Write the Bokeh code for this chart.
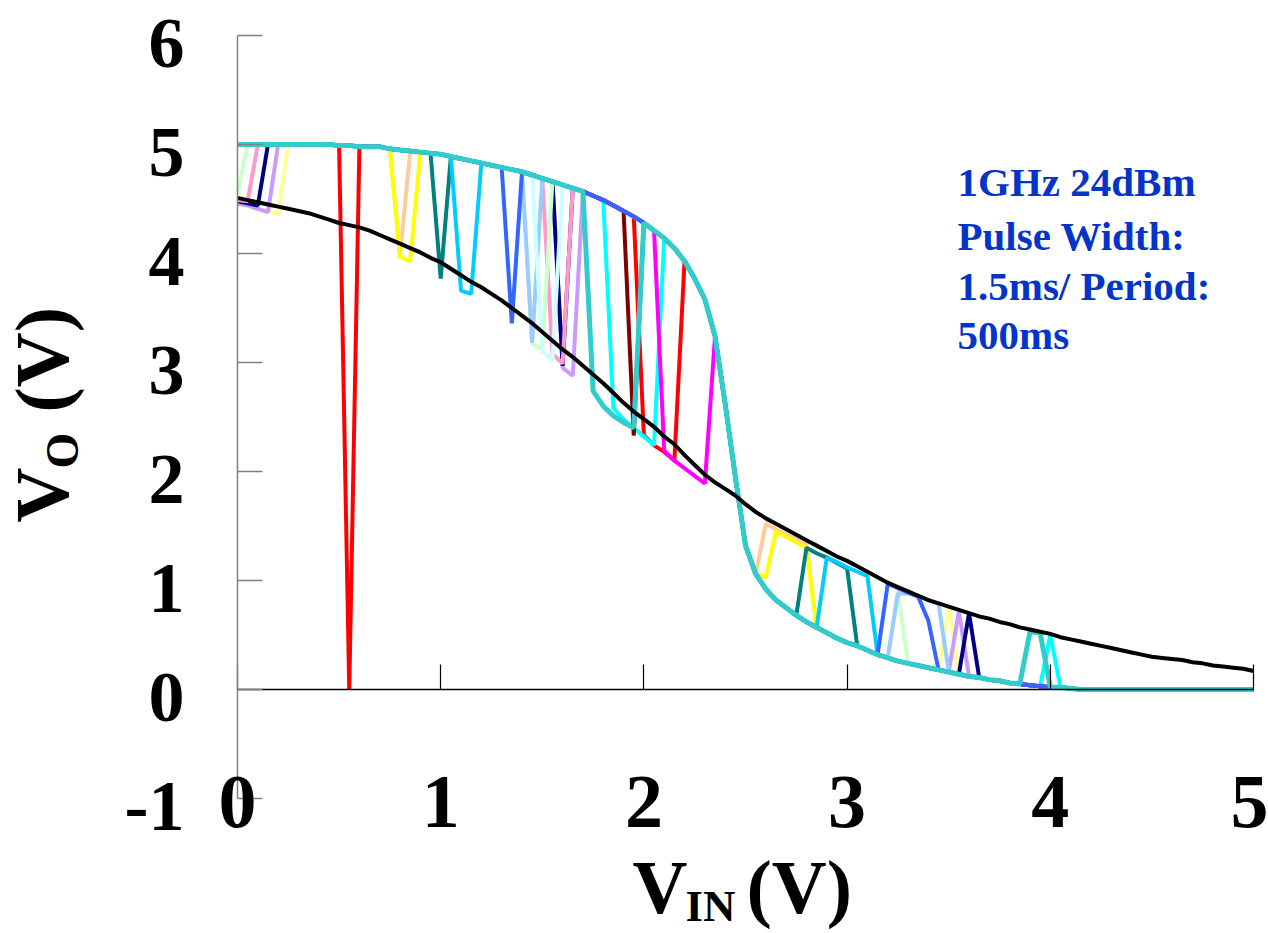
import math
from bokeh.plotting import figure
from bokeh.models import Range1d, LinearAxis, FixedTicker, Label, CustomJSTickFormatter
from bokeh.embed import file_html
from bokeh.resources import INLINE

# ---------------- data ----------------
vin = [round(i * 0.05, 2) for i in range(101)]  # input sweep, 0 .. 5 V in 0.05 V steps

# clean transfer curve (no pulse)
vout_clean = [
    5.00, 5.00, 5.00, 5.00, 5.00, 5.00, 5.00, 5.00, 5.00, 5.00,
    4.99, 4.99, 4.98, 4.98, 4.98, 4.96, 4.95, 4.94, 4.93, 4.92,
    4.91, 4.89, 4.87, 4.85, 4.83, 4.81, 4.79, 4.77, 4.75, 4.72,
    4.69, 4.66, 4.63, 4.60, 4.57, 4.53, 4.49, 4.44, 4.39, 4.34,
    4.28, 4.21, 4.14, 4.05, 3.93, 3.77, 3.58, 3.24, 2.62, 1.95,
    1.32, 1.06, 0.92, 0.82, 0.75, 0.68, 0.62, 0.57, 0.52, 0.47,
    0.43, 0.40, 0.36, 0.32, 0.29, 0.26, 0.24, 0.22, 0.20, 0.18,
    0.16, 0.14, 0.12, 0.11, 0.09, 0.08, 0.06, 0.05, 0.04, 0.03,
    0.02, 0.02, 0.01, 0.00, 0.00, 0.00, 0.00, 0.00, 0.00, 0.00,
    0.00, 0.00, 0.00, 0.00, 0.00, 0.00, 0.00, 0.00, 0.00, 0.00,
    0.00,
]

# transfer curve under continuous RF (black)
vout_cw = [
    4.51, 4.49, 4.47, 4.45, 4.43, 4.41, 4.39, 4.37, 4.34, 4.31,
    4.28, 4.26, 4.24, 4.21, 4.17, 4.13, 4.09, 4.05, 4.01, 3.96,
    3.92, 3.86, 3.80, 3.74, 3.69, 3.63, 3.57, 3.50, 3.43, 3.36,
    3.28, 3.20, 3.12, 3.05, 2.97, 2.89, 2.81, 2.72, 2.63, 2.55,
    2.48, 2.41, 2.32, 2.25, 2.15, 2.06, 1.97, 1.90, 1.84, 1.78,
    1.70, 1.63, 1.57, 1.52, 1.47, 1.42, 1.37, 1.32, 1.27, 1.22,
    1.18, 1.13, 1.08, 1.03, 0.98, 0.94, 0.90, 0.86, 0.82, 0.79,
    0.76, 0.73, 0.70, 0.67, 0.65, 0.62, 0.60, 0.57, 0.55, 0.53,
    0.51, 0.48, 0.46, 0.44, 0.42, 0.40, 0.38, 0.36, 0.34, 0.32,
    0.30, 0.29, 0.28, 0.27, 0.25, 0.24, 0.22, 0.21, 0.20, 0.19,
    0.17,
]

# pulsed sweeps: colour, and the samples that were hit by the pulse
pulse_colors = [
    "#FFFF99", "#CC99FF", "#000080", "#FF99CC", "#CCFFCC", "#FF0000",
    "#FFCC99", "#FFFF00", "#008080", "#00CCFF", "#99CCFF", "#CCFFFF",
    "#00FFFF", "#800000", "#FF00FF", "#3366FF", "#33CCCC",
]
pulse_vin = [
    [0.0, 0.05, 0.1, 0.15, 0.2, 3.5],
    [0.0, 0.05, 0.1, 0.15, 1.6, 1.65, 3.55],
    [0.0, 0.05, 0.1, 1.6, 3.6],
    [0.0, 0.05, 1.55, 1.6],
    [0.0, 1.45, 1.5, 3.25],
    [0.55, 2.0, 2.05, 2.1, 2.15],
    [0.8, 2.6, 2.65, 2.7, 2.75, 2.8],
    [0.8, 0.85, 2.6, 2.65, 2.7, 2.75, 2.8],
    [1.0, 2.8, 2.85, 2.9, 2.95, 3.0],
    [1.1, 1.15, 2.9, 2.95, 3.0, 3.05, 3.1],
    [1.45, 3.25, 3.3, 3.35, 3.4, 3.45],
    [1.5, 1.55],
    [1.85, 1.9, 1.95, 2.0, 2.05, 4.0],
    [1.95],
    [2.1, 2.15, 2.2, 2.25, 2.3],
    [1.35, 3.2, 3.25, 3.3, 3.35, 3.4],
    [1.75, 1.8, 1.85, 1.9, 1.95, 3.9, 3.95],
]
pulse_vout = [
    [4.45, 4.43, 4.41, 4.39, 4.36, 0.76],
    [4.46, 4.44, 4.41, 4.38, 2.95, 2.88, 0.72],
    [4.48, 4.46, 4.44, 2.97, 0.70],
    [4.49, 4.48, 3.08, 2.99],
    [4.55, 3.17, 3.12, 0.90],
    [0.00, 2.33, 2.24, 2.18, 2.10],
    [3.98, 1.52, 1.47, 1.42, 1.38, 1.34],
    [3.97, 3.93, 1.03, 1.45, 1.40, 1.35, 1.30],
    [3.77, 1.30, 1.25, 1.21, 1.16, 1.11],
    [3.66, 3.63, 1.21, 1.17, 1.12, 1.08, 1.04],
    [3.18, 0.88, 0.88, 0.86, 0.82, 0.79],
    [3.10, 3.02],
    [2.58, 2.48, 2.40, 2.32, 2.24, 0.50],
    [2.33],
    [2.19, 2.10, 2.03, 1.96, 1.89],
    [3.36, 0.97, 0.93, 0.89, 0.85, 0.63],
    [2.74, 2.60, 2.51, 2.45, 2.40, 0.53, 0.52],
]

x_ticks = [0, 1, 2, 3, 4, 5]
x_tick_labels = ["0", "1", "2", "3", "4", "5"]
y_ticks = [-1, 0, 1, 2, 3, 4, 5, 6]
y_tick_labels = ["-1", "0", "1", "2", "3", "4", "5", "6"]
note_lines = ["1GHz 24dBm", "Pulse Width:", "1.5ms/ Period:", "500ms"]

# ---------------- figure ----------------
FONT = "Liberation Serif"
W, H = 1268, 933
PX_X, PX_Y = 203.2, 109.0          # pixels per volt
X0, Y0 = 237, 689                  # canvas position of (0, 0)
p = figure(width=W, height=H,
           x_range=Range1d(-X0 / PX_X, (W - X0) / PX_X),
           y_range=Range1d(-(H - Y0) / PX_Y, Y0 / PX_Y),
           output_backend="svg", toolbar_location=None,
           x_axis_location=None, y_axis_location=None, min_border=0)
p.title.visible = False
p.outline_line_color = None
p.grid.grid_line_color = None
p.background_fill_color = "white"
p.border_fill_color = "white"

empty = CustomJSTickFormatter(code="return ''")

# x axis line at Vo = 0 with inward ticks
xline = LinearAxis(ticker=FixedTicker(ticks=x_ticks), fixed_location=0, bounds=(0, 5),
                   axis_line_color="black", axis_line_width=1.5,
                   major_tick_in=25, major_tick_out=0,
                   major_tick_line_color="black", major_tick_line_width=1.2,
                   minor_tick_line_color=None, formatter=empty,
                   major_label_standoff=0)
p.add_layout(xline, "below")
# y axis line at Vin = 0 with inward ticks
yline = LinearAxis(ticker=FixedTicker(ticks=y_ticks), fixed_location=0, bounds=(-1, 6),
                   axis_line_color="#808080", axis_line_width=1.5,
                   major_tick_in=25, major_tick_out=0,
                   major_tick_line_color="#808080", major_tick_line_width=1.5,
                   minor_tick_line_color=None, formatter=empty,
                   major_label_standoff=0)
p.add_layout(yline, "left")

# ---------------- curves ----------------
index_of = {v: i for i, v in enumerate(vin)}
for color, gx, gy in zip(pulse_colors, pulse_vin, pulse_vout):
    ys = list(vout_clean)
    for xv, yv in zip(gx, gy):
        ys[index_of[round(xv, 2)]] = yv
    lw = 5 if color == "#33CCCC" else 4
    p.line(vin, ys, line_color=color, line_width=lw)

p.line(vin, vout_cw, line_color="black", line_width=4)

# ---------------- texts ----------------
SHIFT = 0.35   # anchor sits at the glyph centre; move it up from the baseline


def sx(px):   # canvas pixel -> volts along x
    return (px - X0) / PX_X


def sy(py):   # canvas pixel -> volts along y
    return (Y0 - py) / PX_Y


def add_text(text, x, y, size_px, angle=0.0, color="black", align="left",
             x_offset=0, y_offset=0):
    p.add_layout(Label(x=x, y=y, text=text, angle=angle,
                       x_offset=x_offset, y_offset=y_offset,
                       text_font=FONT, text_font_style="bold",
                       text_font_size=f"{size_px}px", text_color=color,
                       text_align=align, text_baseline="alphabetic"))


def text_at_baseline(text, px, py, size_px, color="black"):
    add_text(text, sx(px), sy(py - SHIFT * size_px), size_px, color=color)


def vtext_at_baseline(text, px, py, size_px):
    add_text(text, sx(px - SHIFT * size_px), sy(py), size_px, angle=math.pi / 2)


# tick labels
for t, s in zip(x_ticks, x_tick_labels):
    add_text(s, t, sy(801), 76, align="center", x_offset=(-4 if t == x_ticks[-1] else 0))
for t, s in zip(y_ticks, y_tick_labels):
    add_text(s, sx(184), t, 72, align="right", y_offset=-8)

# y-axis title: V_O (V)
vtext_at_baseline("V", 68, 522, 76)
vtext_at_baseline("O", 78, 468, 46)
vtext_at_baseline("(V)", 68, 412, 76)
# x-axis title: V_IN (V)
text_at_baseline("V", 632, 913, 76)
text_at_baseline("IN", 685, 921, 45)
text_at_baseline("(V)", 746, 913, 76)
# annotation
for line_text, py in zip(note_lines, [196, 250, 300, 349]):
    text_at_baseline(line_text, 957, py, 41, color="#0535C8")

open("out.html", "w").write(file_html(p, INLINE))
